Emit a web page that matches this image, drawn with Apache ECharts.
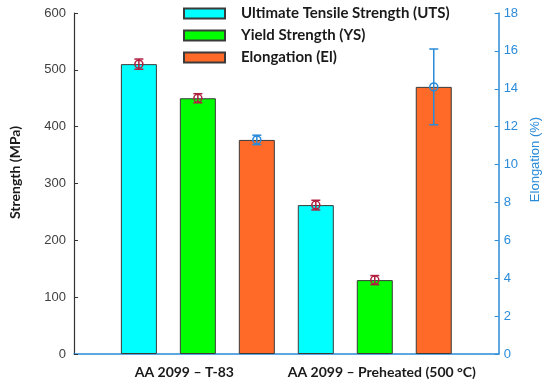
<!DOCTYPE html>
<html><head><meta charset="utf-8">
<script src="https://cdn.jsdelivr.net/npm/echarts@6/dist/echarts.min.js"></script>
<style>html,body{margin:0;padding:0;background:#fff}#c{width:550px;height:388px}</style>
</head><body><div id="c"></div>
<script>
const categories = ['AA 2099 \u2013 T-83', 'AA 2099 \u2013 Preheated (500 \u00B0C)'];
const seriesNames = ['Ultimate Tensile Strength (UTS)', 'Yield Strength (YS)', 'Elongation (El)'];
const utsValues = [510, 262];
const utsErrors = [9, 8.5];
const ysValues = [450, 130];
const ysErrors = [8, 8];
const elValues = [11.3, 14.1];
const elErrors = [0.25, 2.0];

// layout: the x band is split in 36 equal slots; bars sit in every 5th slot
const SLOT_COUNT = 36;
const groupStart = [5, 20];      // slot of first bar of each group
const slotStep = 5;              // slot step between bars in a group
const labelPos = [1.77, 5.12];   // label centres on the label axis (-0.1 .. 7.1)

const blue = '#2a8bd8';
const errRed = '#b0203f';
const boldFont = 'Lato';

const slots = Array.from({length: SLOT_COUNT}, (_, i) => String(i));
function barData(k, vals){
  const arr = new Array(SLOT_COUNT).fill('-');
  groupStart.forEach((s, g) => { arr[s + k * slotStep] = vals[g]; });
  return arr;
}
function errData(k, vals, errs){
  return groupStart.map((s, g) => [s + k * slotStep, vals[g], errs[g]]);
}

function errRenderer(color){
  return function(params, api){
    const x = api.value(0), y = api.value(1), e = api.value(2);
    const p = api.coord([x, y]);
    const hi = api.coord([x, y + e]);
    const lo = api.coord([x, y - e]);
    const hw = 4.5;
    const st = {stroke: color, lineWidth: 1.5, fill: 'none'};
    return {type: 'group', children: [
      {type: 'line', shape: {x1: p[0], y1: hi[1], x2: p[0], y2: lo[1]}, style: st},
      {type: 'line', shape: {x1: p[0]-hw, y1: hi[1], x2: p[0]+hw, y2: hi[1]}, style: st},
      {type: 'line', shape: {x1: p[0]-hw, y1: lo[1], x2: p[0]+hw, y2: lo[1]}, style: st},
      {type: 'circle', shape: {cx: p[0], cy: p[1], r: 4}, style: st}
    ]};
  };
}

function bar(name, yIdx, data, color){
  return {type: 'bar', name: name, xAxisIndex: 0, yAxisIndex: yIdx, data: data,
    barWidth: 36, barGap: '-100%',
    itemStyle: {color: color, borderColor: '#3a3a3a', borderWidth: 1}};
}

const chart = echarts.init(document.getElementById('c'), null, {renderer: 'canvas'});
chart.setOption({
  animation: false,
  backgroundColor: '#fff',
  grid: {left: 71, right: 45, top: 13, bottom: 34, containLabel: false},
  legend: {
    data: seriesNames, orient: 'vertical', left: 183, top: 6, padding: 0,
    itemWidth: 41, itemHeight: 10, itemGap: 7, icon: 'rect',
    textStyle: {fontFamily: boldFont, fontWeight: 'bold', fontSize: 15, lineHeight: 15, color: '#1a1a1a', padding: [0, 0, 0, 11]}
  },
  xAxis: [
    {
      type: 'category', data: slots, boundaryGap: true, show: false
    },
    {
      type: 'value', min: -0.1, max: 7.1, position: 'bottom',
      splitLine: {show: false},
      axisTick: {show: false},
      axisLine: {show: true, onZero: false, lineStyle: {color: blue, width: 1.5}},
      axisLabel: {
        customValues: labelPos, margin: 11,
        formatter: v => (v < 3.5 ? categories[0] : categories[1]),
        fontFamily: boldFont, fontWeight: 'bold', fontSize: 14, color: '#1a1a1a'
      }
    }
  ],
  yAxis: [
    {
      type: 'value', min: 0, max: 600, interval: 100, position: 'left',
      name: 'Strength (MPa)', nameLocation: 'middle', nameGap: 52,
      nameTextStyle: {fontFamily: boldFont, fontWeight: 'bold', fontSize: 14, color: '#1a1a1a', padding: [0, 0, 0, 22]},
      splitLine: {show: false},
      axisLine: {show: true, onZero: false, lineStyle: {color: '#333', width: 1.2}},
      axisTick: {show: true, inside: true, length: 4, lineStyle: {color: '#333'}},
      axisLabel: {fontFamily: 'Liberation Sans', fontSize: 13, color: '#404040', margin: 8}
    },
    {
      type: 'value', min: 0, max: 18, interval: 2, position: 'right',
      name: 'Elongation (%)', nameLocation: 'middle', nameGap: 30, nameRotate: 90,
      nameTextStyle: {fontFamily: 'Liberation Sans', fontSize: 13, color: blue, padding: [0, 0, 0, 48]},
      splitLine: {show: false},
      axisLine: {show: true, onZero: false, lineStyle: {color: blue, width: 1.5}},
      axisTick: {show: true, inside: true, length: 4, lineStyle: {color: blue}},
      axisLabel: {fontFamily: 'Liberation Sans', fontSize: 13, color: blue, margin: 5}
    }
  ],
  series: [
    bar(seriesNames[0], 0, barData(0, utsValues), '#00ffff'),
    bar(seriesNames[1], 0, barData(1, ysValues), '#00ff00'),
    bar(seriesNames[2], 1, barData(2, elValues), '#ff6a28'),
    {type: 'custom', name: 'UTS err', xAxisIndex: 0, yAxisIndex: 0, renderItem: errRenderer(errRed), data: errData(0, utsValues, utsErrors), z: 5},
    {type: 'custom', name: 'YS err', xAxisIndex: 0, yAxisIndex: 0, renderItem: errRenderer(errRed), data: errData(1, ysValues, ysErrors), z: 5},
    {type: 'custom', name: 'El err', xAxisIndex: 0, yAxisIndex: 1, renderItem: errRenderer(blue), data: errData(2, elValues, elErrors), z: 5}
  ]
});
</script>
</body></html>
